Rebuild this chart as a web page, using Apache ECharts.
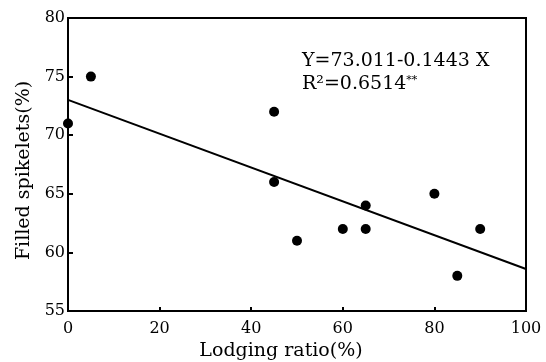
<!DOCTYPE html>
<html>
<head>
<meta charset="utf-8">
<script src="https://cdn.jsdelivr.net/npm/echarts@6/dist/echarts.min.js"></script>
<style>
  html, body { margin: 0; padding: 0; background: #fff; }
  #chart { width: 546px; height: 362px; }
</style>
</head>
<body>
<div id="chart"></div>
<script>
// observed points: lodging ratio (%) vs filled spikelets (%)
const lodgingRatio = [0, 5, 45, 45, 50, 60, 65, 65, 80, 85, 90];
const filledSpikelets = [71, 75, 72, 66, 61, 62, 64, 62, 65, 58, 62];

// fitted line Y = 73.011 - 0.1443 X, ends of the drawn segment
const fitX = [0, 100];
const fitY = [73.011, 58.581];

const xTicks = [0, 20, 40, 60, 80, 100];
const yTicks = [55, 60, 65, 70, 75, 80];

const serif = '"DejaVu Serif", "Liberation Serif", serif';
const ink = '#000';

const chart = echarts.init(document.getElementById('chart'));

const option = {
  animation: false,
  backgroundColor: '#fff',
  grid: {
    left: 68,
    right: 20,
    top: 18,
    bottom: 51,
    outerBoundsMode: 'none',
    containLabel: false,
    show: true,
    borderColor: ink,
    borderWidth: 2,
  },
  xAxis: {
    type: 'value',
    min: xTicks[0],
    max: xTicks[xTicks.length - 1],
    interval: 20,
    name: 'Lodging ratio(%)',
    nameLocation: 'middle',
    nameGap: 30,
    nameTextStyle: {
      color: ink,
      fontFamily: serif,
      fontSize: 19,
      padding: [0, 32, 0, 0],
    },
    axisLine: { lineStyle: { color: ink, width: 2 } },
    axisTick: { inside: true, length: 4, lineStyle: { color: ink, width: 2 } },
    axisLabel: { color: ink, fontFamily: serif, fontSize: 16, margin: 10 },
    splitLine: { show: false },
  },
  yAxis: {
    type: 'value',
    min: yTicks[0],
    max: yTicks[yTicks.length - 1],
    interval: 5,
    name: 'Filled spikelets(%)',
    nameLocation: 'middle',
    nameGap: 34,
    nameTextStyle: {
      color: ink,
      fontFamily: serif,
      fontSize: 19,
      padding: [0, 12, 0, 0],
    },
    axisLine: { lineStyle: { color: ink, width: 2 } },
    axisTick: { inside: true, length: 5, lineStyle: { color: ink, width: 2 } },
    axisLabel: { color: ink, fontFamily: serif, fontSize: 16, margin: 3 },
    splitLine: { show: false },
  },
  graphic: [
    {
      type: 'text',
      left: 302,
      top: 52,
      style: {
        text: 'Y=73.011-0.1443 X',
        font: '19px ' + serif,
        fill: ink,
      },
    },
    {
      type: 'text',
      left: 302,
      top: 75,
      style: {
        text: 'R²=0.6514{s|**}',
        font: '19px ' + serif,
        fill: ink,
        rich: {
          s: { fontSize: 11, fontFamily: serif, verticalAlign: 'top', fill: ink },
        },
      },
    },
  ],
  series: [
    {
      type: 'scatter',
      data: lodgingRatio.map((x, i) => [x, filledSpikelets[i]]),
      symbol: 'circle',
      symbolSize: 10,
      itemStyle: { color: ink, opacity: 1 },
      z: 3,
    },
    {
      type: 'line',
      data: fitX.map((x, i) => [x, fitY[i]]),
      symbol: 'none',
      lineStyle: { color: ink, width: 2 },
      z: 2,
    },
  ],
};

chart.setOption(option);
</script>
</body>
</html>
